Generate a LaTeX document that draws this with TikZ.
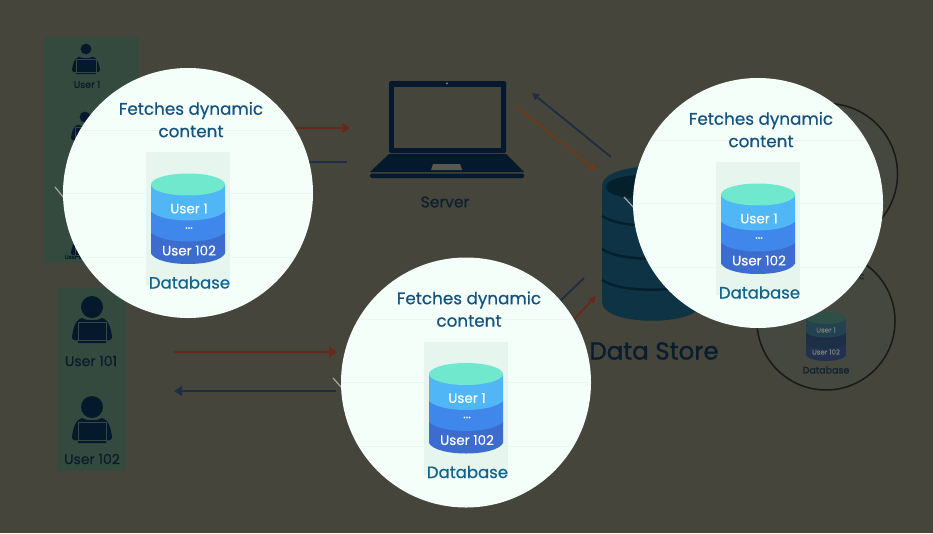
\documentclass[tikz,border=0pt]{standalone}
\usepackage{fontspec}
\setmainfont{Poppins}[RawFeature={embolden=0.5}]
\newfontfamily\storefont{Poppins}[RawFeature={embolden=1.2}]
\definecolor{bgc}{HTML}{45453B}
\definecolor{panelc}{HTML}{344A3E}
\definecolor{darkc}{HTML}{04192B}
\definecolor{storec}{HTML}{0D3344}
\definecolor{storeline}{HTML}{04202D}
\definecolor{redc}{HTML}{66291A}
\definecolor{bluec}{HTML}{1E2C44}
\definecolor{orangec}{HTML}{6E3A18}
\definecolor{lensc}{HTML}{F4FFFA}
\definecolor{lensline}{HTML}{EBF8F2}
\definecolor{rectc}{HTML}{E6F5EE}
\definecolor{titlec}{HTML}{14527F}
\definecolor{dbtop}{HTML}{6FE8CE}
\definecolor{dba}{HTML}{50B6F6}
\definecolor{dbb}{HTML}{3F87EA}
\definecolor{dbc}{HTML}{3D6CCF}
\definecolor{ghostc}{HTML}{44483F}
\usetikzlibrary{arrows.meta}
\tikzset{
  txt/.style={inner sep=0pt,font=\fontsize{#1}{#1}\selectfont},
  lenstitle/.style={txt=16.8,text=titlec},
  dblabel/.style={txt=16.5,text=titlec!90!cyan},
  dbinner/.style={txt=13.5,text=white},
  flow/.style={line width=2.8pt,-{Triangle[length=8pt,width=10pt]}},
  thinflow/.style={line width=1.8pt,-{Triangle[length=7pt,width=7pt]}},
  userlabel/.style={text=darkc!92!bgc}
}
\newcommand{\dbshape}[4]{%
  \fill[#4] (-37,48) -- (37,48) -- (37,69) .. controls (30,83) and (-30,83) .. (-37,69) -- cycle;
  \fill[#3] (-37,27) -- (37,27) -- (37,48) .. controls (25,60) and (-25,60) .. (-37,48) -- cycle;
  \fill[#2] (-37,0) -- (37,0) -- (37,27) .. controls (25,39) and (-25,39) .. (-37,27) -- cycle;
  \fill[#1] (0,0) ellipse [x radius=37pt,y radius=11pt];
}
\newcommand{\lens}[3]{%
  \begin{scope}[shift={(#2,#3)}]
    \node[circle,fill=lensc,minimum size=250pt,inner sep=0pt] (#1) at (0,0) {};
    \begin{scope}
      \clip (0,0) circle (124.5pt);
      \draw[lensline,line width=0.8pt] (-130,-63) -- (130,-63) (-130,0) -- (130,0) (-130,64) -- (130,64);
    \end{scope}
    \fill[rectc] (-42,-41) rectangle (42,92);
    \node[lenstitle] (#1t1) at (3,-82.5) {Fetches dynamic};
    \node[lenstitle] (#1t2) at (3,-61.5) {content};
    \begin{scope}[shift={(0,-8.5)}]\dbshape{dbtop}{dba}{dbb}{dbc}\end{scope}
    \node[dbinner] (#1u1) at (1,15.5) {User 1};
    \node[dbinner,txt=12] (#1u2) at (1,35) {...};
    \node[dbinner] (#1u3) at (1,57.5) {User 102};
    \node[dblabel] (#1d) at (1.5,89.5) {Database};
  \end{scope}}
\newcommand{\usericon}[4]{%
  \begin{scope}[shift={(#2,#3)},scale=#4]
    \fill[darkc] (0,0) circle (11pt*#4);
    \fill[darkc] (-10,11) .. controls (-17,13) and (-19,22) .. (-20,30)
       .. controls (-20,33) and (-17,34) .. (-14,33) -- (-14,36) -- (14,36) -- (14,33)
       .. controls (17,34) and (20,33) .. (20,30) .. controls (19,22) and (17,13) .. (10,11)
       .. controls (5,14) and (-5,14) .. (-10,11) -- cycle;
    \draw[panelc,line width=0.8pt*#4] (-14,15) rectangle (14,33);
    \coordinate (#1) at (0,0);
  \end{scope}}
\begin{document}
\begin{tikzpicture}[x=1pt,y=-1pt]
\useasboundingbox (0,0) rectangle (933,533);
\fill[bgc] (0,0) rectangle (933,533);
% user panels
\fill[panelc] (44,37) rectangle (139,263);
\fill[panelc] (57,288) rectangle (126,471);
\usericon{ua}{86}{49}{0.7}
\usericon{ub}{85}{117}{0.7}
\usericon{uc}{85}{212}{0.7}
\usericon{ud}{85}{232}{0.7}
\node[userlabel,txt=9.5] (la) at (87,84.5) {User 1};
\node[userlabel,txt=5.5] (ld) at (75,257) {User 90};
\usericon{ue}{92}{307}{1}
\usericon{uf}{92}{407}{1}
\node[userlabel,txt=14] (le) at (91,361) {User 101};
\node[userlabel,txt=14] (lf) at (92,459) {User 102};
% server
\fill[darkc,rounded corners=1.5pt] (389,81) rectangle (506,153);
\fill[bgc] (394,86.5) rectangle (501,148);
\fill[bgc!70!white] (447,83.5) circle (1.1pt);
\fill[darkc] (389,154) -- (506,154) -- (524,172) -- (370,172) -- cycle;
\fill[bgc!90!white] (431,170) -- (433,164) -- (460,164) -- (462,170) -- cycle;
\fill[darkc,rounded corners=1.5pt] (370,173.5) rectangle (524,178);
\node[txt=15.5,text=darkc!85!bgc] (server) at (445,202) {Server};
% data store
\fill[storec] (602,186) .. controls (602,160) and (702,160) .. (702,186) -- (702,302)
   .. controls (702,327) and (602,327) .. (602,302) -- cycle;
\fill[storeline] (606,187) .. controls (606,170) and (698,170) .. (698,187) .. controls (698,204) and (606,204) .. (606,187) -- cycle;
\foreach \yy in {216,249,280}
  \draw[storeline,line width=2.5pt] (602,\yy) .. controls (620,\yy+13) and (684,\yy+13) .. (702,\yy);
\node[inner sep=0pt,text=darkc!90!bgc,font=\storefont\fontsize{24.5}{24.5}\selectfont] (store) at (654,351) {Data Store};
% ghost circles
\node[circle,fill=ghostc,draw=black!90,line width=1.5pt,minimum size=141pt,inner sep=0pt] (g1) at (827,174) {};
\node[circle,fill=ghostc,draw=black!90,line width=1.5pt,minimum size=138pt,inner sep=0pt] (g2) at (826,321) {};
\node[txt=9,text=darkc!70!bgc] (g2t) at (826,277) {Fetches dynamic};
\begin{scope}[shift={(826,318)},scale=0.54]\dbshape{dbtop!35!black!80!ghostc}{dba!35!black!80!ghostc}{dbb!30!black!80!ghostc}{dbc!40!black!80!ghostc}\end{scope}
\node[txt=7,text=ghostc!70!white] (g2a) at (826,330) {User 1};
\node[txt=7,text=ghostc!70!white] (g2b) at (826,352) {User 102};
\node[txt=9.5,text=darkc!80!bgc] (g2c) at (826,370) {Database};
% connectors
\coordinate (a1s) at (270,128); \coordinate (a1e) at (350,128);
\coordinate (a2s) at (347,162); \coordinate (a2e) at (270,162);
\coordinate (a3s) at (174,352); \coordinate (a3e) at (337,352);
\coordinate (a4s) at (336,391); \coordinate (a4e) at (174,391);
\coordinate (a5s) at (517,107); \coordinate (a5e) at (596,170);
\coordinate (a6s) at (611,157); \coordinate (a6e) at (532,93);
\coordinate (a7s) at (550,345); \coordinate (a7e) at (596,296);
\coordinate (a8s) at (584,278); \coordinate (a8e) at (530,330);
\draw[flow,redc] (a1s) -- (a1e);
\draw[flow,bluec] (a2s) -- (a2e);
\draw[flow,redc] (a3s) -- (a3e);
\draw[flow,bluec] (a4s) -- (a4e);
\draw[thinflow,orangec] (a5s) -- (a5e);
\draw[thinflow,bluec] (a6s) -- (a6e);
\draw[thinflow,redc] (a7s) -- (a7e);
\draw[thinflow,bluec] (a8s) -- (a8e);
% small glints
\draw[gray!70,line width=1.2pt] (55,187) -- (64,198);
\draw[gray!70,line width=1.2pt] (333,378) -- (342,388);
\draw[gray!70,line width=1.2pt] (624,197) -- (634,208);
% magnifier lenses
\lens{lensA}{188}{193}
\lens{lensB}{466}{382.5}
\lens{lensC}{758}{203}
\end{tikzpicture}
\end{document}
